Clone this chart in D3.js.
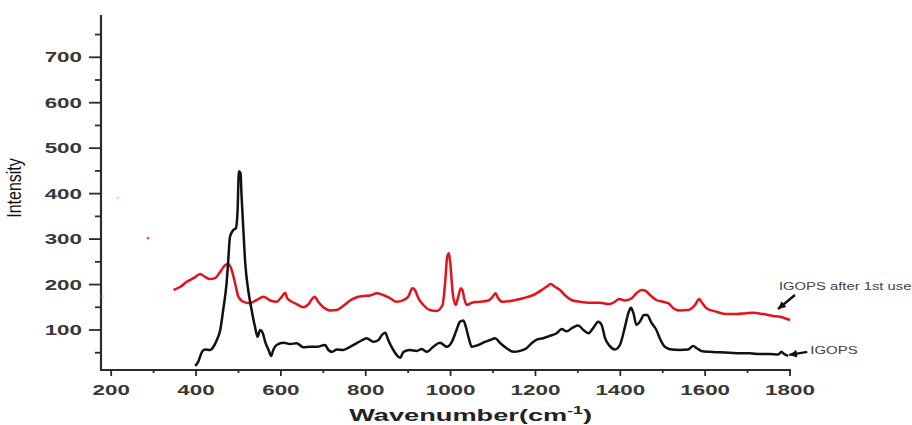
<!DOCTYPE html>
<html>
<head>
<meta charset="utf-8">
<script src="https://cdn.jsdelivr.net/npm/d3@7"></script>
<style>
  body { margin: 0; background: #fff; }
  text { font-family: "Liberation Sans", Arial, sans-serif; }
</style>
</head>
<body>
<svg id="chart" width="912" height="425"></svg>
<script>
// Raman spectra: fresh IGOPS and IGOPS after its first use
const igopsWavenumber = [398,405,414,421,433,441,449,457,464,472,476,480,488,494,498,501,505,507,512,516,523,531,539,545,551,557,563,571,577,582,590,606,622,637,653,669,685,704,712,720,732,747,763,779,794,802,818,830,838,846,853,865,873,881,889,904,920,932,944,959,975,991,1003,1014,1022,1030,1036,1042,1050,1065,1081,1093,1105,1116,1132,1148,1164,1179,1191,1203,1218,1234,1250,1262,1273,1289,1301,1313,1325,1336,1348,1356,1364,1375,1387,1399,1411,1419,1425,1431,1438,1446,1456,1463,1474,1485,1493,1505,1521,1540,1560,1572,1580,1591,1611,1635,1658,1682,1705,1729,1752,1772,1780,1786,1796];
const igopsIntensity = [21,30,52,57,56,63,78,100,144,203,254,305,320,324,364,449,445,401,313,247,188,144,107,85,100,94,74,56,43,56,67,72,69,71,62,63,63,67,56,52,57,56,63,71,79,82,74,78,89,94,78,56,45,39,52,56,54,58,52,63,72,63,74,100,118,121,107,85,63,67,74,78,82,72,60,52,54,60,71,79,82,87,93,102,97,106,110,100,93,104,118,111,82,65,57,67,107,137,149,137,111,118,133,133,115,100,82,63,57,56,57,65,60,54,52,51,50,49,49,47,47,46,52,47,43];

const usedWavenumber = [347,363,378,394,410,421,433,445,457,469,476,484,492,500,512,527,543,559,575,590,602,610,615,626,637,653,665,675,680,688,700,716,732,747,763,779,794,810,826,841,857,873,889,900,910,916,924,936,951,967,981,987,992,996,1000,1005,1012,1018,1024,1028,1032,1038,1050,1069,1089,1099,1106,1112,1124,1148,1171,1195,1215,1226,1236,1246,1258,1269,1285,1305,1328,1352,1375,1387,1397,1411,1427,1438,1450,1458,1470,1485,1501,1513,1525,1540,1560,1576,1586,1591,1603,1627,1650,1674,1697,1713,1737,1760,1776,1788,1800];
const usedIntensity = [188,195,206,214,223,217,212,214,228,243,245,232,203,173,162,159,166,173,165,162,173,182,170,162,157,150,157,170,173,162,150,143,144,153,165,172,175,176,181,177,170,162,166,173,192,188,170,155,144,142,155,203,261,269,240,181,155,173,192,188,170,155,160,162,165,173,181,170,162,165,170,177,188,195,201,195,188,177,166,162,160,160,157,162,168,165,170,181,188,187,177,166,162,159,148,143,144,155,168,162,148,140,135,135,137,138,135,131,129,126,122];

// isolated red specks left of the spectrum
const speckWavenumber = [176, 287, 216];
const speckIntensity = [173, 302, 391];
const speckOpacity = [0.9, 0.8, 0.25];

const xMajorTicks = [200, 400, 600, 800, 1000, 1200, 1400, 1600, 1800];
const xMinorTicks = [300, 500, 700, 900, 1100, 1300, 1500, 1700];
const yMajorTicks = [100, 200, 300, 400, 500, 600, 700];
const yMinorTicks = [50, 150, 250, 350, 450, 550, 650, 750];

const xTitle = "Wavenumber(cm";
const yTitle = "Intensity";
const usedLabel = "IGOPS after 1st use";
const igopsLabel = "IGOPS";

const svg = d3.select("#chart");
const plot = { left: 101, right: 790, top: 15, bottom: 370 };
const stretch = 1.6; // wide lettering

const x = d3.scaleLinear().domain([176, 1800]).range([plot.left, plot.right]);
const y = d3.scaleLinear().domain([12, 793]).range([plot.bottom, plot.top]);

const axisColor = "#2b2b2b";

// axes lines
svg.append("line")
  .attr("x1", plot.left).attr("x2", plot.left)
  .attr("y1", plot.top).attr("y2", plot.bottom + 1)
  .attr("stroke", axisColor).attr("stroke-width", 2.2);
svg.append("line")
  .attr("x1", plot.left - 1).attr("x2", plot.right + 1)
  .attr("y1", plot.bottom).attr("y2", plot.bottom)
  .attr("stroke", axisColor).attr("stroke-width", 2.2);

// y ticks
svg.append("g").selectAll("line.ymaj").data(yMajorTicks).join("line")
  .attr("x1", plot.left - 12).attr("x2", plot.left)
  .attr("y1", d => y(d)).attr("y2", d => y(d))
  .attr("stroke", axisColor).attr("stroke-width", 1.8);
svg.append("g").selectAll("line.ymin").data(yMinorTicks).join("line")
  .attr("x1", plot.left - 6).attr("x2", plot.left)
  .attr("y1", d => y(d)).attr("y2", d => y(d))
  .attr("stroke", axisColor).attr("stroke-width", 1.8);

// x ticks
svg.append("g").selectAll("line.xmaj").data(xMajorTicks).join("line")
  .attr("x1", d => x(d)).attr("x2", d => x(d))
  .attr("y1", plot.bottom).attr("y2", plot.bottom + 6)
  .attr("stroke", axisColor).attr("stroke-width", 1.8);
svg.append("g").selectAll("line.xmin").data(xMinorTicks).join("line")
  .attr("x1", d => x(d)).attr("x2", d => x(d))
  .attr("y1", plot.bottom).attr("y2", plot.bottom + 3)
  .attr("stroke", axisColor).attr("stroke-width", 1.8);

// tick labels
svg.append("g").selectAll("text").data(yMajorTicks).join("text")
  .attr("transform", d => `translate(${plot.left - 19},${y(d) + 5}) scale(${stretch},1)`)
  .attr("text-anchor", "end")
  .attr("font-size", 14).attr("font-weight", "bold").attr("fill", "#383838")
  .text(d => d);
svg.append("g").selectAll("text").data(xMajorTicks).join("text")
  .attr("transform", d => `translate(${x(d)},${395}) scale(${stretch},1)`)
  .attr("text-anchor", "middle")
  .attr("font-size", 14).attr("font-weight", "bold").attr("fill", "#383838")
  .text(d => d);

// axis titles
const xt = svg.append("text")
  .attr("transform", `translate(${(x(200) + x(1800)) / 2 + 20},421) scale(${stretch},1)`)
  .attr("text-anchor", "middle")
  .attr("font-size", 17).attr("font-weight", "bold").attr("fill", "#222");
xt.append("tspan").text(xTitle);
xt.append("tspan").attr("font-size", 11).attr("dy", -7).text("-1");
xt.append("tspan").attr("dy", 7).text(")");

svg.append("text")
  .attr("transform", `translate(21,${188}) scale(1.25,1) rotate(-90)`)
  .attr("text-anchor", "middle")
  .attr("font-size", 16).attr("fill", "#111")
  .text(yTitle);

// spectra
const line = d3.line()
  .x(d => x(d[0]))
  .y(d => y(d[1]))
  .curve(d3.curveMonotoneX);

const usedPts = usedWavenumber.map((v, i) => [v, usedIntensity[i]]);
const igopsPts = igopsWavenumber.map((v, i) => [v, igopsIntensity[i]]);

svg.append("path").datum(usedPts)
  .attr("d", line).attr("fill", "none")
  .attr("stroke", "#e3121b").attr("stroke-width", 2.5)
  .attr("stroke-linejoin", "round");
svg.append("path").datum(igopsPts)
  .attr("d", line).attr("fill", "none")
  .attr("stroke", "#111").attr("stroke-width", 2.5)
  .attr("stroke-linejoin", "round");

svg.append("g").selectAll("circle").data(speckWavenumber).join("circle")
  .attr("cx", d => x(d)).attr("cy", (d, i) => y(speckIntensity[i]))
  .attr("r", 1.3).attr("fill", "#e3121b")
  .attr("opacity", (d, i) => speckOpacity[i]);

// annotation arrows
svg.append("defs").append("marker")
  .attr("id", "head").attr("viewBox", "0 0 10 10")
  .attr("refX", 10).attr("refY", 5)
  .attr("markerWidth", 4).attr("markerHeight", 3.2)
  .attr("markerUnits", "strokeWidth")
  .attr("orient", "auto")
  .append("path").attr("d", "M0,0 L10,5 L0,10 Z").attr("fill", "#111");

const usedEnd = usedPts[usedPts.length - 1];
const usedTip = [x(usedEnd[0]) - 12, y(usedEnd[1]) - 11];
svg.append("line")
  .attr("x1", usedTip[0] + 17).attr("y1", usedTip[1] - 14)
  .attr("x2", usedTip[0]).attr("y2", usedTip[1])
  .attr("stroke", "#111").attr("stroke-width", 2.4)
  .attr("marker-end", "url(#head)");
svg.append("text")
  .attr("transform", `translate(${usedTip[0] + 1},${usedTip[1] - 19}) scale(1.48,1)`)
  .attr("font-size", 10).attr("fill", "#444")
  .text(usedLabel);

const igopsEnd = igopsPts[igopsPts.length - 1];
const igopsTip = [x(igopsEnd[0]) + 1, y(igopsEnd[1]) - 1];
svg.append("line")
  .attr("x1", igopsTip[0] + 18).attr("y1", igopsTip[1] - 3)
  .attr("x2", igopsTip[0]).attr("y2", igopsTip[1])
  .attr("stroke", "#111").attr("stroke-width", 2.4)
  .attr("marker-end", "url(#head)");
svg.append("text")
  .attr("transform", `translate(${igopsTip[0] + 21},${igopsTip[1] - 0.5}) scale(1.5,1)`)
  .attr("font-size", 10).attr("fill", "#444")
  .text(igopsLabel);
</script>
</body>
</html>
